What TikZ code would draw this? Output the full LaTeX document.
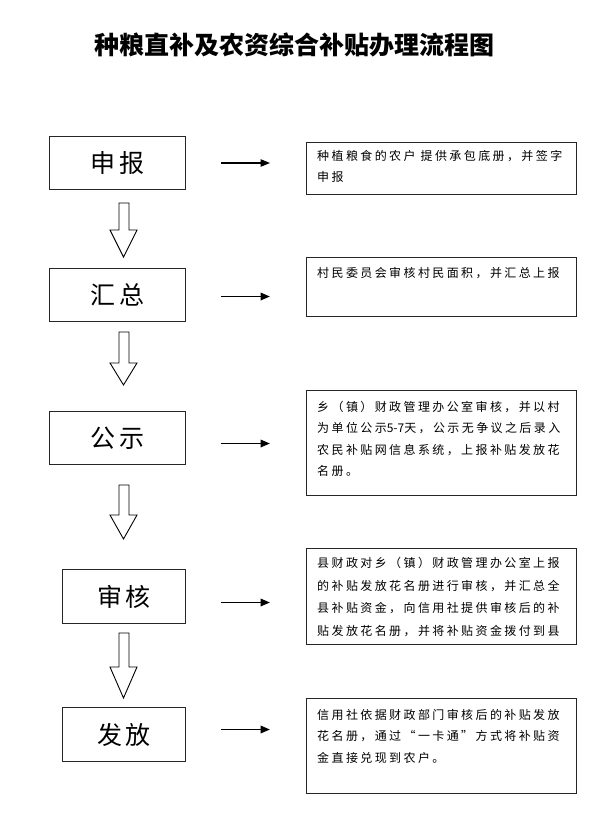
\documentclass[tikz,border=0pt]{standalone}
\usepackage{fontspec}
\newfontfamily\cjk{Noto Sans CJK SC}
\newfontfamily\cjks[LetterSpace=20]{Noto Sans CJK SC}
\newfontfamily\cjkl[LetterSpace=14]{Noto Sans CJK SC}
\usetikzlibrary{arrows.meta}
\newcommand\blockarr[3]{%
  \draw[barrow] (119,#1) -- (129,#1) -- (129,#2) -- (137,#2) -- (123.5,#3)
    -- (110,#2) -- (119,#2) -- cycle;}
\begin{document}
\begin{tikzpicture}[x=1pt,y=-1pt,
  lbox/.style={draw=black!85, line width=1pt, inner sep=0pt, anchor=north west,
    font=\cjkl\fontsize{25}{25}\selectfont},
  rbox/.style={draw=black!85, line width=1pt, inner sep=0pt, anchor=north west,
    minimum width=270pt},
  rtext/.style={inner sep=0pt, anchor=north west, align=left,
    font=\cjks\fontsize{12}{21.5}\selectfont},
  sarrow/.style={draw=black, line width=1.9pt, -{Triangle[length=9.5pt,width=7.5pt]}},
  barrow/.style={draw=black, line width=0.9pt, fill=white, line join=miter}
]
\useasboundingbox (0,0) rectangle (595,822);

% title
\node[font=\cjk\bfseries\fontsize{25}{25}\selectfont] (title) at (294,45) {种粮直补及农资综合补贴办理流程图};

% left boxes
\node[lbox, minimum width=136pt, minimum height=53pt] (l1) at (49,136) {申报};
\node[lbox, minimum width=136pt, minimum height=53pt] (l2) at (49,268) {汇总};
\node[lbox, minimum width=136pt, minimum height=53pt] (l3) at (49,411) {公示};
\node[lbox, minimum width=123pt, minimum height=54pt] (l4) at (62,569) {审核};
\node[lbox, minimum width=123pt, minimum height=54pt] (l5) at (62,707) {发放};

% right boxes
\node[rbox, minimum height=52pt] (r1) at (306,142) {};
\node[rbox, minimum height=59pt] (r2) at (306,257) {};
\node[rbox, minimum height=105pt] (r3) at (306,390) {};
\node[rbox, minimum height=96pt] (r4) at (306,548) {};
\node[rbox, minimum height=95pt] (r5) at (306,698) {};

\node[rtext] (t1) at ([xshift=11pt,yshift=-8pt]r1.north west)
  {种植粮食的农户 提供承包底册，并签字\\申报};
\node[rtext] (t2) at ([xshift=11pt,yshift=-10pt]r2.north west)
  {村民委员会审核村民面积，并汇总上报};
\node[rtext] (t3) at ([xshift=11pt,yshift=-11pt]r3.north west)
  {乡（镇）财政管理办公室审核，并以村\\为单位公示{\cjk 5-7}天，公示无争议之后录入\\农民补贴网信息系统，上报补贴发放花\\名册。};
\node[rtext, font=\cjks\fontsize{12}{22.7}\selectfont] (t4) at ([xshift=11pt,yshift=-9pt]r4.north west)
  {县财政对乡（镇）财政管理办公室上报\\的补贴发放花名册进行审核，并汇总全\\县补贴资金，向信用社提供审核后的补\\贴发放花名册，并将补贴资金拨付到县};
\node[rtext] (t5) at ([xshift=11pt,yshift=-11pt]r5.north west)
  {信用社依据财政部门审核后的补贴发放\\花名册，通过“一卡通”方式将补贴资\\金直接兑现到农户。};

% small arrows
\draw[sarrow, line width=1.1pt] ([xshift=35pt]l1.east) -- ([xshift=-36pt]l1.east -| r1.west);
\draw[sarrow] ([xshift=35pt,yshift=-1.5pt]l2.east) -- ([xshift=-36pt,yshift=-1.5pt]l2.east -| r2.west);
\draw[sarrow] ([xshift=35pt,yshift=-5.5pt]l3.east) -- ([xshift=-36pt,yshift=-5.5pt]l3.east -| r3.west);
\draw[sarrow] ([xshift=35pt,yshift=-6pt]l4.east) -- ([xshift=-36pt,yshift=-6pt]l4.east -| r4.west);
\draw[sarrow] ([xshift=35pt,yshift=5pt]l5.east) -- ([xshift=-36pt,yshift=5pt]l5.east -| r5.west);

% block arrows
\blockarr{203}{230}{257}
\blockarr{332}{363}{385}
\blockarr{485}{515}{539}
\blockarr{633}{667}{698}
\end{tikzpicture}
\end{document}
